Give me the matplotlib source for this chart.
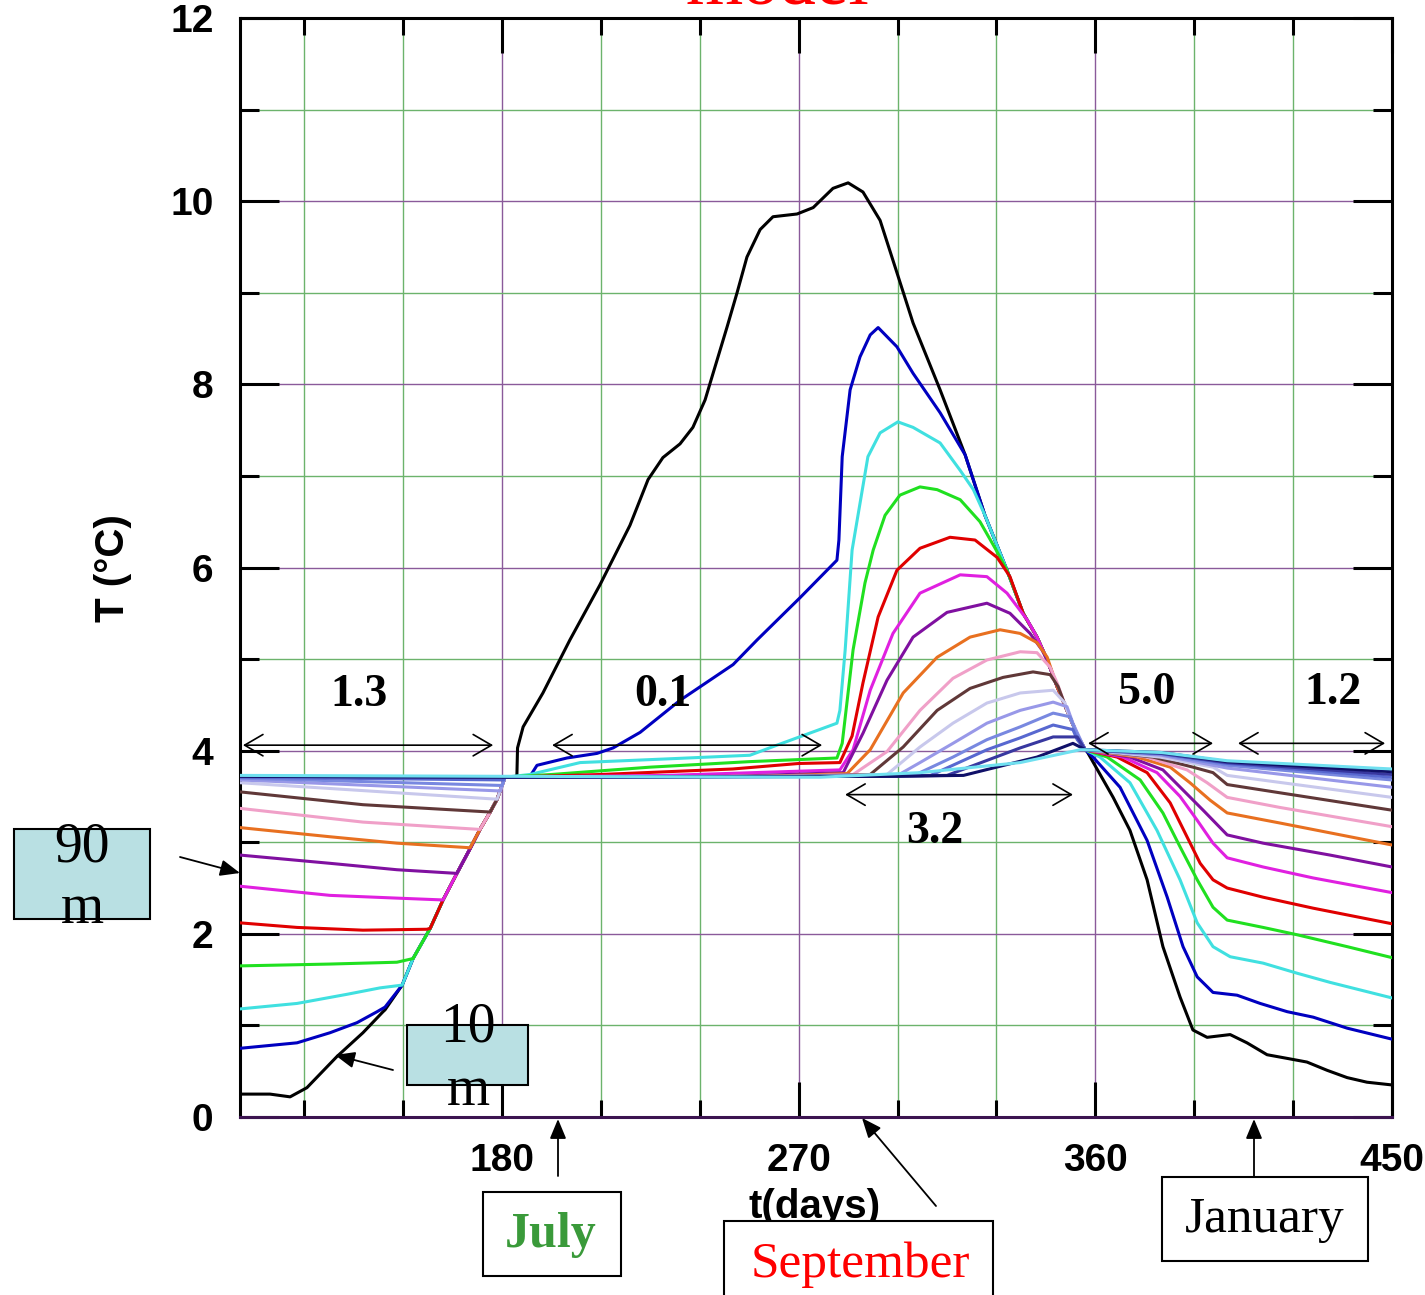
import matplotlib
matplotlib.use("Agg")
import matplotlib.pyplot as plt
from matplotlib.patches import Rectangle

# ---------------- axis ticks ----------------
x_major = [180, 270, 360, 450]
x_minor = [120, 150, 210, 240, 300, 330, 390, 420]
y_major = [0, 2, 4, 6, 8, 10, 12]
y_minor = [1, 3, 5, 7, 9, 11]

# ---------------- shared segments ----------------
# spring mixed-layer envelope (all depths join it)
env_day = [144.5, 149.7, 153.0, 158.2, 162.1, 166.3, 170.3, 173.3, 176.4, 178.5, 180.9]
env_T = [1.17, 1.44, 1.73, 2.06, 2.37, 2.66, 2.93, 3.14, 3.33, 3.47, 3.71]
# autumn common descent
desc_day = [312.9, 320.5, 326.5, 333.2, 338.1, 342.3, 345.4, 348.4, 351.4, 354.8, 356.9]
desc_T = [7.94, 7.23, 6.57, 5.97, 5.50, 5.24, 4.99, 4.70, 4.44, 4.15, 4.01]

# ---------------- per-depth series (A: winter/spring, B: summer/autumn, C: winter) ----------------
black_A_day = [100.5, 109.6, 115.7, 120.8, 129.9, 137.8, 143.9]
black_A_T = [0.25, 0.25, 0.22, 0.32, 0.66, 0.92, 1.15]
black_B_day = [184.5, 184.7, 186.4, 192.4, 200.6, 209.7, 218.8, 224.3, 228.8, 234.0, 237.9, 241.6,
               243.1, 248.3, 251.3, 254.3, 258.3, 262.2, 269.5, 274.4, 280.4, 285.0, 289.5, 294.7,
               299.8, 304.7]
black_B_T = [3.72, 4.03, 4.26, 4.63, 5.21, 5.81, 6.46, 6.96, 7.20, 7.35, 7.53, 7.83,
             8.01, 8.63, 9.00, 9.39, 9.69, 9.83, 9.86, 9.93, 10.14, 10.20, 10.10, 9.79,
             9.22, 8.67]
black_C_day = [357.5, 365.4, 370.5, 375.7, 380.5, 385.7, 389.6, 393.9, 400.9, 406.0, 412.1, 418.2,
               424.2, 430.3, 436.4, 442.4, 450.0]
black_C_T = [3.99, 3.49, 3.13, 2.59, 1.86, 1.31, 0.95, 0.87, 0.90, 0.81, 0.68, 0.64,
             0.60, 0.51, 0.43, 0.38, 0.35]

blue_A_day = [100.5, 117.8, 127.8, 136.0, 142.1, 144.5]
blue_A_T = [0.75, 0.81, 0.92, 1.03, 1.15, 1.20]
blue_B_day = [188.5, 190.6, 199.7, 208.8, 213.7, 221.9, 234.0, 250.1, 257.4, 270.4, 281.6, 282.2,
              283.2, 285.6, 288.6, 291.7, 294.1, 299.8, 304.7, 312.9]
blue_B_T = [3.72, 3.84, 3.92, 3.97, 4.03, 4.20, 4.55, 4.94, 5.21, 5.67, 6.08, 6.30,
            7.21, 7.94, 8.30, 8.54, 8.62, 8.41, 8.12, 7.69]
blue_C_day = [359.3, 367.5, 375.7, 381.8, 386.6, 390.9, 395.7, 403.0, 410.0, 418.2, 426.1, 436.4, 450.0]
blue_C_T = [3.93, 3.60, 3.02, 2.40, 1.86, 1.53, 1.36, 1.33, 1.24, 1.15, 1.09, 0.97, 0.85]

cyan_A_day = [100.5, 117.8, 133.0, 143.0, 149.7]
cyan_A_T = [1.18, 1.24, 1.34, 1.41, 1.44]
cyan_B_day = [188.5, 203.7, 230.0, 255.2, 263.4, 281.6, 282.5, 284.1, 286.2, 291.0, 294.7, 300.1,
              304.7, 312.9, 319.0, 323.0]
cyan_B_T = [3.74, 3.87, 3.91, 3.95, 4.06, 4.30, 4.44, 5.10, 6.19, 7.21, 7.47, 7.59,
            7.53, 7.36, 7.06, 6.85]
cyan_C_day = [361.4, 370.5, 378.7, 385.7, 390.9, 395.7, 400.9, 410.9, 421.2, 431.2, 450.0]
cyan_C_T = [3.93, 3.65, 3.13, 2.59, 2.12, 1.86, 1.75, 1.68, 1.57, 1.47, 1.30]

green_A_day = [100.5, 127.8, 148.1, 153.0]
green_A_T = [1.65, 1.67, 1.69, 1.73]
green_B_day = [195.0, 224.9, 255.0, 281.6, 283.2, 286.5, 290.1, 292.6, 296.2, 300.7, 306.8, 312.0,
               319.0, 325.0, 329.6]
green_B_T = [3.74, 3.82, 3.88, 3.92, 4.08, 5.10, 5.83, 6.19, 6.57, 6.79, 6.88, 6.85,
             6.74, 6.50, 6.21]
green_C_day = [363.6, 373.6, 380.5, 385.7, 390.9, 395.7, 400.0, 410.9, 421.2, 436.4, 450.0]
green_C_T = [3.93, 3.68, 3.32, 2.95, 2.59, 2.29, 2.15, 2.07, 1.99, 1.86, 1.74]

red_A_day = [100.5, 117.8, 137.8, 157.2, 158.2]
red_A_T = [2.12, 2.07, 2.04, 2.05, 2.06]
red_B_day = [210.0, 250.0, 270.0, 282.5, 286.2, 289.5, 294.1, 299.8, 306.8, 315.9, 323.5, 330.2, 334.1]
red_B_T = [3.74, 3.80, 3.86, 3.87, 4.16, 4.74, 5.46, 5.97, 6.21, 6.33, 6.30, 6.11, 5.90]
red_C_day = [366.6, 375.7, 382.7, 387.8, 391.8, 395.7, 400.0, 410.9, 426.1, 450.0]
red_C_T = [3.93, 3.76, 3.43, 3.06, 2.77, 2.59, 2.50, 2.40, 2.28, 2.11]

magenta_A_day = [100.5, 127.8, 148.1, 162.1]
magenta_A_T = [2.52, 2.42, 2.39, 2.37]
magenta_B_day = [230.0, 282.5, 286.5, 291.7, 298.6, 306.8, 319.0, 327.1, 333.2, 339.3]
magenta_B_T = [3.73, 3.79, 4.01, 4.66, 5.28, 5.72, 5.92, 5.90, 5.72, 5.43]
magenta_C_day = [368.4, 378.7, 385.7, 390.9, 395.7, 400.0, 410.9, 426.1, 450.0]
magenta_C_T = [3.93, 3.76, 3.50, 3.24, 2.99, 2.83, 2.73, 2.61, 2.45]

purple_A_day = [100.5, 127.8, 148.1, 166.3]
purple_A_T = [2.86, 2.77, 2.70, 2.66]
purple_B_day = [250.0, 283.5, 289.5, 296.8, 304.7, 315.0, 327.1, 334.1, 340.2, 343.8]
purple_B_T = [3.72, 3.76, 4.19, 4.77, 5.24, 5.51, 5.61, 5.50, 5.28, 5.10]
purple_C_day = [370.5, 380.5, 386.6, 392.7, 400.0, 410.9, 431.2, 450.0]
purple_C_T = [3.93, 3.79, 3.57, 3.35, 3.08, 2.99, 2.86, 2.73]

orange_A_day = [100.5, 127.8, 148.1, 170.3]
orange_A_T = [3.16, 3.06, 2.99, 2.94]
orange_B_day = [260.0, 284.7, 291.7, 301.7, 312.0, 322.0, 331.1, 337.2, 342.3, 345.4]
orange_B_T = [3.72, 3.75, 4.01, 4.63, 5.02, 5.24, 5.32, 5.28, 5.18, 5.02]
orange_C_day = [372.7, 382.7, 388.7, 394.8, 400.0, 416.0, 450.0]
orange_C_T = [3.93, 3.82, 3.65, 3.46, 3.32, 3.21, 2.97]

pink_A_day = [100.5, 137.8, 173.3]
pink_A_T = [3.37, 3.22, 3.14]
pink_B_day = [265.0, 286.5, 296.8, 306.8, 316.8, 327.1, 337.2, 342.3, 346.3, 348.4]
pink_B_T = [3.72, 3.74, 3.99, 4.44, 4.79, 4.99, 5.08, 5.07, 4.91, 4.74]
pink_C_day = [375.7, 387.8, 393.9, 400.0, 416.0, 450.0]
pink_C_T = [3.93, 3.79, 3.65, 3.49, 3.38, 3.17]

brown_A_day = [100.5, 137.8, 176.4]
brown_A_T = [3.55, 3.41, 3.33]
brown_B_day = [270.0, 291.7, 301.7, 312.0, 322.0, 332.0, 341.1, 346.3, 348.7]
brown_B_T = [3.72, 3.74, 4.04, 4.44, 4.68, 4.80, 4.86, 4.83, 4.70]
brown_C_day = [377.5, 389.6, 395.7, 400.0, 416.0, 450.0]
brown_C_T = [3.93, 3.82, 3.76, 3.63, 3.54, 3.35]

lavender_A_day = [100.5, 178.5]
lavender_A_T = [3.65, 3.47]
lavender_B_day = [275.0, 296.8, 306.8, 316.8, 327.1, 337.2, 347.2, 350.8]
lavender_B_T = [3.72, 3.74, 4.04, 4.30, 4.52, 4.63, 4.66, 4.52]
lavender_C_day = [379.6, 395.7, 400.0, 450.0]
lavender_C_T = [3.93, 3.82, 3.73, 3.49]

periwinkle_A_day = [100.5, 179.5]
periwinkle_A_T = [3.68, 3.56]
periwinkle_B_day = [280.0, 300.0, 306.8, 316.8, 327.1, 337.2, 347.2, 351.4, 353.2, 356.9]
periwinkle_B_T = [3.72, 3.73, 3.87, 4.08, 4.30, 4.44, 4.53, 4.48, 4.30, 4.01]
periwinkle_C_day = [380.0, 400.0, 450.0]
periwinkle_C_T = [3.95, 3.81, 3.60]

cornflower_A_day = [100.5, 180.0]
cornflower_A_T = [3.70, 3.62]
cornflower_B_day = [285.0, 305.0, 316.8, 327.1, 337.2, 347.2, 352.3, 353.8, 356.9]
cornflower_B_T = [3.72, 3.73, 3.93, 4.12, 4.26, 4.41, 4.37, 4.23, 4.01]
cornflower_C_day = [380.0, 400.0, 450.0]
cornflower_C_T = [3.96, 3.84, 3.68]

slate_A_day = [100.5, 180.5]
slate_A_T = [3.71, 3.68]
slate_B_day = [290.0, 310.0, 327.1, 337.2, 347.2, 353.2, 354.5, 356.9]
slate_B_T = [3.72, 3.73, 4.01, 4.14, 4.28, 4.23, 4.12, 4.01]
slate_C_day = [380.0, 400.0, 450.0]
slate_C_T = [3.97, 3.86, 3.71]

darkblue_A_day = [100.5, 180.9]
darkblue_A_T = [3.72, 3.71]
darkblue_B_day = [295.0, 315.0, 337.2, 347.2, 354.5, 356.9]
darkblue_B_T = [3.72, 3.73, 4.03, 4.15, 4.15, 4.01]
darkblue_C_day = [380.0, 400.0, 450.0]
darkblue_C_T = [3.97, 3.87, 3.74]

navy_A_day = [100.5, 180.9]
navy_A_T = [3.72, 3.71]
navy_B_day = [300.0, 320.0, 342.3, 353.2, 355.4, 356.9]
navy_B_T = [3.72, 3.73, 3.93, 4.08, 4.04, 4.01]
navy_C_day = [380.0, 400.0, 450.0]
navy_C_T = [3.98, 3.88, 3.77]

deep_A_day = [100.5, 180.9]
deep_A_T = [3.73, 3.72]
deep_B_day = [276.5, 306.8, 337.2, 355.4, 356.9]
deep_B_T = [3.71, 3.76, 3.87, 4.01, 4.01]
deep_C_day = [380.0, 400.0, 450.0]
deep_C_T = [3.98, 3.89, 3.80]

series = [
    ("#000000", black_A_day, black_A_T, black_B_day, black_B_T, black_C_day, black_C_T),
    ("#0000c0", blue_A_day, blue_A_T, blue_B_day, blue_B_T, blue_C_day, blue_C_T),
    ("#40e0e0", cyan_A_day, cyan_A_T, cyan_B_day, cyan_B_T, cyan_C_day, cyan_C_T),
    ("#20e020", green_A_day, green_A_T, green_B_day, green_B_T, green_C_day, green_C_T),
    ("#e00000", red_A_day, red_A_T, red_B_day, red_B_T, red_C_day, red_C_T),
    ("#e020e0", magenta_A_day, magenta_A_T, magenta_B_day, magenta_B_T, magenta_C_day, magenta_C_T),
    ("#8010a0", purple_A_day, purple_A_T, purple_B_day, purple_B_T, purple_C_day, purple_C_T),
    ("#e87020", orange_A_day, orange_A_T, orange_B_day, orange_B_T, orange_C_day, orange_C_T),
    ("#f0a0c8", pink_A_day, pink_A_T, pink_B_day, pink_B_T, pink_C_day, pink_C_T),
    ("#603838", brown_A_day, brown_A_T, brown_B_day, brown_B_T, brown_C_day, brown_C_T),
    ("#c8c8ec", lavender_A_day, lavender_A_T, lavender_B_day, lavender_B_T, lavender_C_day, lavender_C_T),
    ("#9898e8", periwinkle_A_day, periwinkle_A_T, periwinkle_B_day, periwinkle_B_T, periwinkle_C_day, periwinkle_C_T),
    ("#7888e0", cornflower_A_day, cornflower_A_T, cornflower_B_day, cornflower_B_T, cornflower_C_day, cornflower_C_T),
    ("#5868d0", slate_A_day, slate_A_T, slate_B_day, slate_B_T, slate_C_day, slate_C_T),
    ("#3838a0", darkblue_A_day, darkblue_A_T, darkblue_B_day, darkblue_B_T, darkblue_C_day, darkblue_C_T),
    ("#101068", navy_A_day, navy_A_T, navy_B_day, navy_B_T, navy_C_day, navy_C_T),
    ("#70e0f0", deep_A_day, deep_A_T, deep_B_day, deep_B_T, deep_C_day, deep_C_T),
]


def assemble(a_d, a_t, b_d, b_t, c_d, c_t):
    days, temps = list(a_d), list(a_t)
    for d, t in zip(env_day, env_T):
        if d > a_d[-1]:
            days.append(d)
            temps.append(t)
    days += b_d
    temps += b_t
    for d, t in zip(desc_day, desc_T):
        if d > b_d[-1]:
            days.append(d)
            temps.append(t)
    days += c_d
    temps += c_t
    return days, temps


# ---------------- figure ----------------
W, H = 1425, 1295
fig = plt.figure(figsize=(W / 100, H / 100), dpi=100)
ax = fig.add_axes([240 / W, 1 - 1117 / H, (1392 - 240) / W, (1117 - 18) / H])


def fxy(px, py):
    return (px / W, 1 - py / H)


for i, (col, ad, at, bd, bt, cd, ct) in enumerate(series):
    d, t = assemble(ad, at, bd, bt, cd, ct)
    ax.plot(d, t, color=col, lw=2.2, solid_joinstyle="round", zorder=3 + i * 0.01)

ax.set_xlim(100.5, 450)
ax.set_ylim(0, 12)
ax.set_xticks(x_major)
ax.set_xticklabels([str(v) for v in x_major])
ax.set_xticks(x_minor, minor=True)
ax.set_yticks(y_major)
ax.set_yticklabels([str(v) for v in y_major])
ax.set_yticks(y_minor, minor=True)

ax.grid(True, which="major", color="#8a5a9a", lw=1.0)
ax.grid(True, which="minor", color="#6cb36c", lw=1.0)
ax.set_axisbelow(True)

ax.tick_params(which="both", direction="in", top=True, right=True, width=2.2, color="black")
ax.tick_params(axis="x", which="major", length=25, pad=19)
ax.tick_params(axis="y", which="major", length=28, pad=19)
ax.tick_params(axis="x", which="minor", length=12)
ax.tick_params(axis="y", which="minor", length=14)

for sp in ax.spines.values():
    sp.set_linewidth(2.2)
    sp.set_color("black")
ax.spines["bottom"].set_color("#3c1450")

tick_font = ["Liberation Sans", "DejaVu Sans"]
for lab in ax.get_xticklabels() + ax.get_yticklabels():
    lab.set_fontfamily(tick_font)
    lab.set_fontweight("bold")
    lab.set_fontsize(28)

# axis labels
fig.text(*fxy(113, 568), "T (°C)", rotation=90, ha="center", va="center",
         fontsize=29, fontweight="bold", family=tick_font)
fig.text(*fxy(815, 1207), "t(days)", ha="center", va="center",
         fontsize=29, fontweight="bold", family=tick_font, zorder=5)

# title (cut off at the top, as in the original)
fig.text(*fxy(777, 4), "model", ha="center", va="baseline", color="red",
         fontsize=53, family="Liberation Serif")

serif = "Liberation Serif"

# double arrows with values
arrows = [
    ((101.4, 4.06), (177.3, 4.06), "1.3", (359, 695)),
    ((195.2, 4.06), (277.1, 4.06), "0.1", (663, 695)),
    ((284.1, 3.52), (353.2, 3.52), "3.2", (935, 832)),
    ((357.8, 4.08), (395.7, 4.08), "5.0", (1147, 693)),
    ((403.3, 4.08), (447.9, 4.08), "1.2", (1333, 693)),
]
for p0, p1, txt, tpos in arrows:
    ax.annotate("", xy=p1, xytext=p0,
                arrowprops=dict(arrowstyle="<->,head_length=0.6,head_width=0.35",
                                mutation_scale=22, lw=1.2, color="black",
                                shrinkA=0, shrinkB=0), zorder=6)
    fig.text(*fxy(*tpos), txt, ha="center", va="center", fontsize=33,
             fontweight="bold", family=serif, zorder=6)


# boxes
def box(x0, y0, x1, y1, fc):
    r = Rectangle(fxy(x0, y1), (x1 - x0) / W, (y1 - y0) / H, transform=fig.transFigure,
                  facecolor=fc, edgecolor="black", lw=1.5, zorder=8)
    fig.patches.append(r)


def arrow(x0, y0, x1, y1):
    fig.add_artist(matplotlib.patches.FancyArrowPatch(
        fxy(x0, y0), fxy(x1, y1), transform=fig.transFigure,
        arrowstyle="-|>,head_length=0.6,head_width=0.25", mutation_scale=20,
        lw=1.3, color="black", shrinkA=0, shrinkB=0, zorder=9))


box(14, 829, 150, 919, "#b9e0e3")
fig.text(*fxy(82, 862), "90", ha="center", va="baseline", fontsize=40, family=serif, zorder=9)
fig.text(*fxy(82, 923), "m", ha="center", va="baseline", fontsize=40, family=serif, zorder=9)
arrow(180, 857, 240, 873)

box(407, 1025, 528, 1085, "#b9e0e3")
fig.text(*fxy(468, 1042), "10", ha="center", va="baseline", fontsize=40, family=serif, zorder=9)
fig.text(*fxy(468, 1105), "m", ha="center", va="baseline", fontsize=40, family=serif, zorder=9)
arrow(393, 1070, 335, 1055)

box(483, 1192, 621, 1276, "white")
fig.text(*fxy(551, 1235), "July", ha="center", va="center", fontsize=36,
         fontweight="bold", color="#3a9a3a", family=serif, zorder=9)
arrow(558, 1176, 558, 1119)

box(724, 1221, 993, 1300, "white")
fig.text(*fxy(860, 1265), "September", ha="center", va="center", fontsize=37,
         color="red", family=serif, zorder=9)
arrow(936, 1206, 862, 1118)

box(1162, 1177, 1368, 1261, "white")
fig.text(*fxy(1265, 1220), "January", ha="center", va="center", fontsize=37,
         color="black", family=serif, zorder=9)
arrow(1254, 1176, 1254, 1119)

fig.savefig("out.png", dpi=100)
